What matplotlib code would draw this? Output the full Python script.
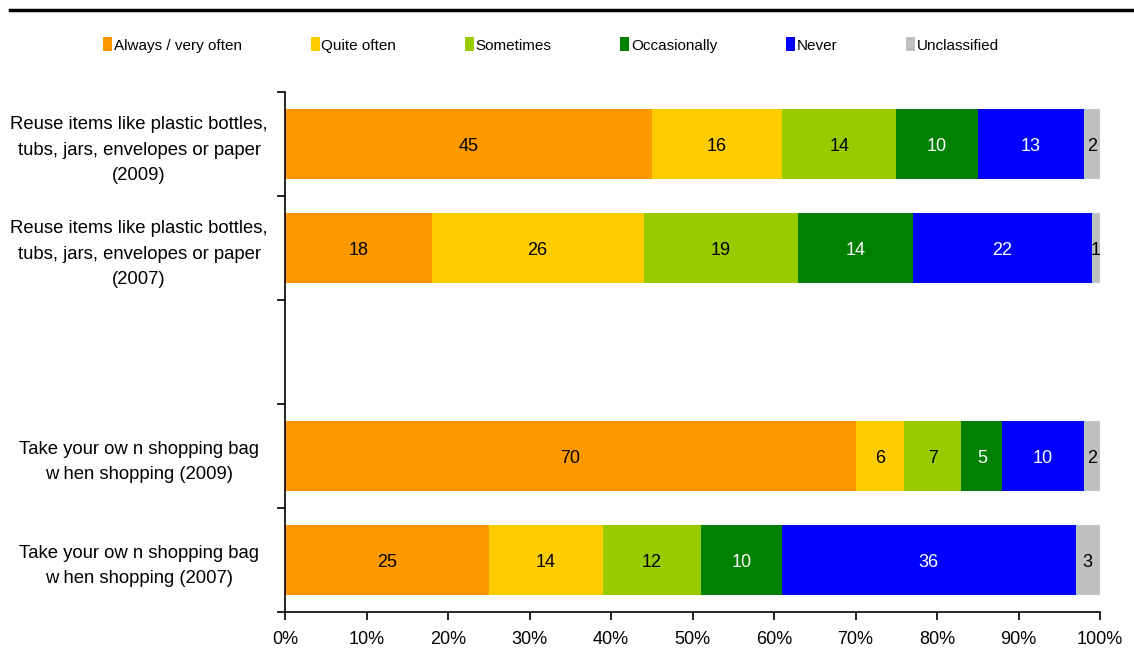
import numpy as np
import matplotlib.pyplot as plt

plt.rcParams['font.family'] = ['Liberation Sans', 'DejaVu Sans']

categories = [
    "Reuse items like plastic bottles,\ntubs, jars, envelopes or paper\n(2009)",
    "Reuse items like plastic bottles,\ntubs, jars, envelopes or paper\n(2007)",
    "",
    "Take your ow n shopping bag\nw hen shopping (2009)",
    "Take your ow n shopping bag\nw hen shopping (2007)",
]
series = ["Always / very often", "Quite often", "Sometimes", "Occasionally", "Never", "Unclassified"]
values = {
    "Always / very often": [45, 18, 0, 70, 25],
    "Quite often": [16, 26, 0, 6, 14],
    "Sometimes": [14, 19, 0, 7, 12],
    "Occasionally": [10, 14, 0, 5, 10],
    "Never": [13, 22, 0, 10, 36],
    "Unclassified": [2, 1, 0, 2, 3],
}
colors = ["#FF9900", "#FFCC00", "#99CC00", "#008000", "#0000FF", "#C0C0C0"]
text_colors = ["black", "black", "black", "white", "white", "black"]

fig = plt.figure(figsize=(11.34, 6.51), dpi=100)
ax = fig.add_axes([285 / 1134, 1 - 612 / 651, 815 / 1134, 520 / 651])

y = np.arange(len(categories))
left = np.zeros(len(categories))
for name, col, tc in zip(series, colors, text_colors):
    vals = np.array(values[name], dtype=float)
    ax.barh(y, vals, left=left, height=0.68, color=col, label=name)
    for yi, v, l in zip(y, vals, left):
        if v > 0:
            ax.text(l + v / 2, yi + 0.02, f"{int(v)}", ha="center", va="center",
                    color=tc, fontsize=13)
    left += vals

ax.set_xlim(0, 100)
ax.set_ylim(len(categories) - 0.5, -0.5)
ax.set_xticks(np.arange(0, 101, 10))
ax.set_xticklabels([f"{t}%" for t in range(0, 101, 10)], fontsize=13)
ax.set_yticks(y)
ax.set_yticklabels(categories, fontsize=13.3, ha="center", multialignment="center",
                   linespacing=1.65)
ax.tick_params(axis="y", length=0, pad=105)
ax.set_yticks(np.arange(-0.5, len(categories)), minor=True)
ax.tick_params(axis="y", which="minor", length=6, width=1.2, direction="out")
ax.tick_params(axis="x", length=6, width=1.2, direction="out", pad=8)
for s in ["top", "right"]:
    ax.spines[s].set_visible(False)
for s in ["left", "bottom"]:
    ax.spines[s].set_linewidth(1.2)

fig.add_artist(plt.Line2D([10 / 1134, 1], [1 - 10 / 651, 1 - 10 / 651],
                          color="black", linewidth=2.5))

fig.legend(loc="center", bbox_to_anchor=(0.486, 1 - 45 / 651), ncol=6, frameon=False,
           fontsize=11, handlelength=0.6, handleheight=1.0, handletextpad=0.1,
           columnspacing=4.5)

fig.savefig("out.png", dpi=100)
